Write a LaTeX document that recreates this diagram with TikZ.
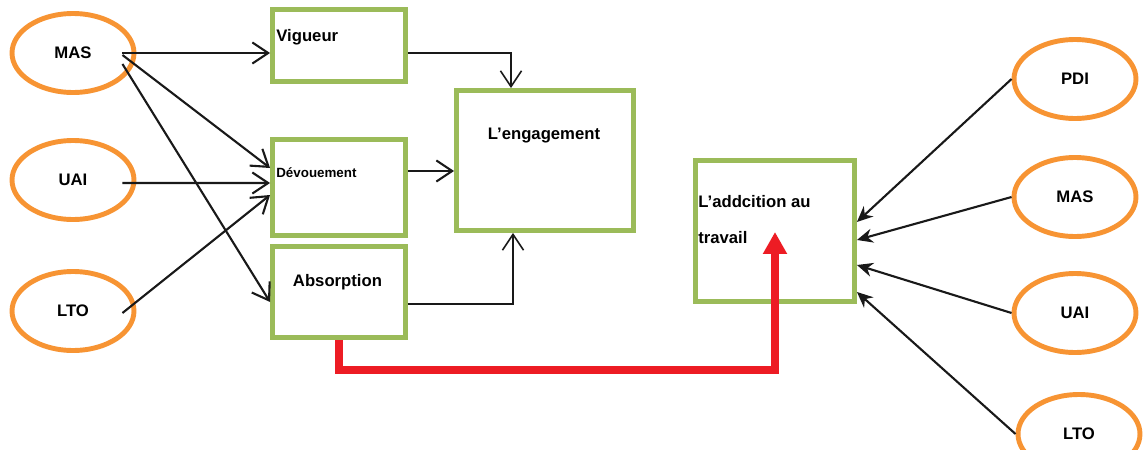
\documentclass[tikz,border=0pt]{standalone}
\usepackage{fontspec}
\setmainfont{Liberation Sans}
\usetikzlibrary{positioning,shapes.geometric,arrows.meta}
\definecolor{boxgreen}{HTML}{9BBB59}
\definecolor{ovalorange}{HTML}{F79433}
\definecolor{linkred}{HTML}{ED1C24}

\begin{document}
\begin{tikzpicture}[x=0.02cm, y=-0.02cm, font=\fontsize{9.5}{11}\selectfont\bfseries,
  oval/.style={ellipse, draw=ovalorange, line width=2.8pt, minimum width=2.44cm, minimum height=1.58cm, inner sep=0pt},
  frame/.style={rectangle, draw=boxgreen, line width=2.8pt, inner sep=0pt, minimum width=2.66cm},
  txt/.style={inner sep=0pt},
  link/.style={draw=black!90, line width=1.2pt, -{Straight Barb[length=9pt,width=12pt]}},
  feed/.style={draw=black!90, line width=1.2pt, -{Stealth[length=9pt,width=8pt]}},
  redlink/.style={draw=linkred, line width=4.5pt, -{Triangle[length=12.5pt,width=13pt]}}]
  \useasboundingbox (0,0) rectangle (1144,450);

    %----------------------------------------------------------
    % Ellipses
    %----------------------------------------------------------
   \node[oval] (masL) at (73,53) {MAS};
   \node[oval] (uaiL) at (73,180) {UAI};
   \node[oval] (ltoL) at (73,311) {LTO};

   \node[oval] (pdiR) at (1075,79) {PDI};
   \node[oval] (masR) at (1075,197) {MAS};
   \node[oval] (uaiR) at (1075,313) {UAI};
   \node[oval] (ltoR) at (1079,434) {LTO};

    %----------------------------------------------------------
    % Boxes and their texts
    %----------------------------------------------------------
   \node[frame, minimum height=1.44cm] (vig) at (339,45.5) {};
   \node[frame, minimum height=1.92cm] (dev) at (339,187.5) {};
   \node[frame, minimum height=1.82cm] (abs) at (339,292) {};
   \node[frame, minimum width=3.54cm, minimum height=2.8cm] (eng) at (545,160.5) {};
   \node[frame, minimum width=3.18cm, minimum height=2.82cm] (add) at (775,231) {};

   \node[txt, anchor=west] (vigtxt) at (276,37) {Vigueur};
   \node[txt, anchor=west, font=\fontsize{7.6}{9}\selectfont\bfseries] (devtxt) at (276,173) {Dévouement};
   \node[txt] (abstxt) at (337.5,282) {Absorption};
   \node[txt] (engtxt) at (544,136) {L’engagement};
   \node[txt, anchor=west, align=left] (addtxt) at (698,219.5) {L’addcition au\\[9pt]travail};

    %----------------------------------------------------------
    % Left connectors
    %----------------------------------------------------------
    \draw[link] ([xshift=-0.28cm]masL.east) -- (vig.west |- masL.east);
    \draw[link] ([xshift=-0.28cm,yshift=-0.04cm]masL.east) -- ([yshift=0.39cm]dev.west);
    \draw[link] ([xshift=-0.28cm,yshift=-0.22cm]masL.east) -- ([yshift=-0.2cm]abs.west);
    \draw[link] ([xshift=-0.28cm,yshift=-0.06cm]uaiL.east) -- ([yshift=0.09cm]dev.west);
    \draw[link] ([xshift=-0.28cm,yshift=-0.04cm]ltoL.east) -- ([yshift=-0.15cm]dev.west);

    % into the engagement box
    \draw[link, line width=0.9pt] ([yshift=-0.15cm]vig.east) -| ([xshift=-0.68cm]eng.north);
    \draw[link] ([yshift=0.33cm]dev.east) -- ([yshift=0.33cm]dev.east -| eng.west);
    \draw[link, line width=0.9pt] ([yshift=-0.24cm]abs.east) -| ([xshift=-0.64cm]eng.south);

    %----------------------------------------------------------
    % Red link and right connectors
    %----------------------------------------------------------
    \coordinate (redtip) at (775,232);
    \draw[redlink] (abs.south) -- ++(0,30) -| (redtip);

    \draw[feed] (pdiR.west) -- ([yshift=0.18cm]add.east);
    \draw[feed] (masR.west) -- ([yshift=-0.18cm]add.east);
    \draw[feed] (uaiR.west) -- ([yshift=-0.68cm]add.east);
    \draw[feed] (ltoR.west) -- ([yshift=-1.22cm]add.east);
\end{tikzpicture}
\end{document}
